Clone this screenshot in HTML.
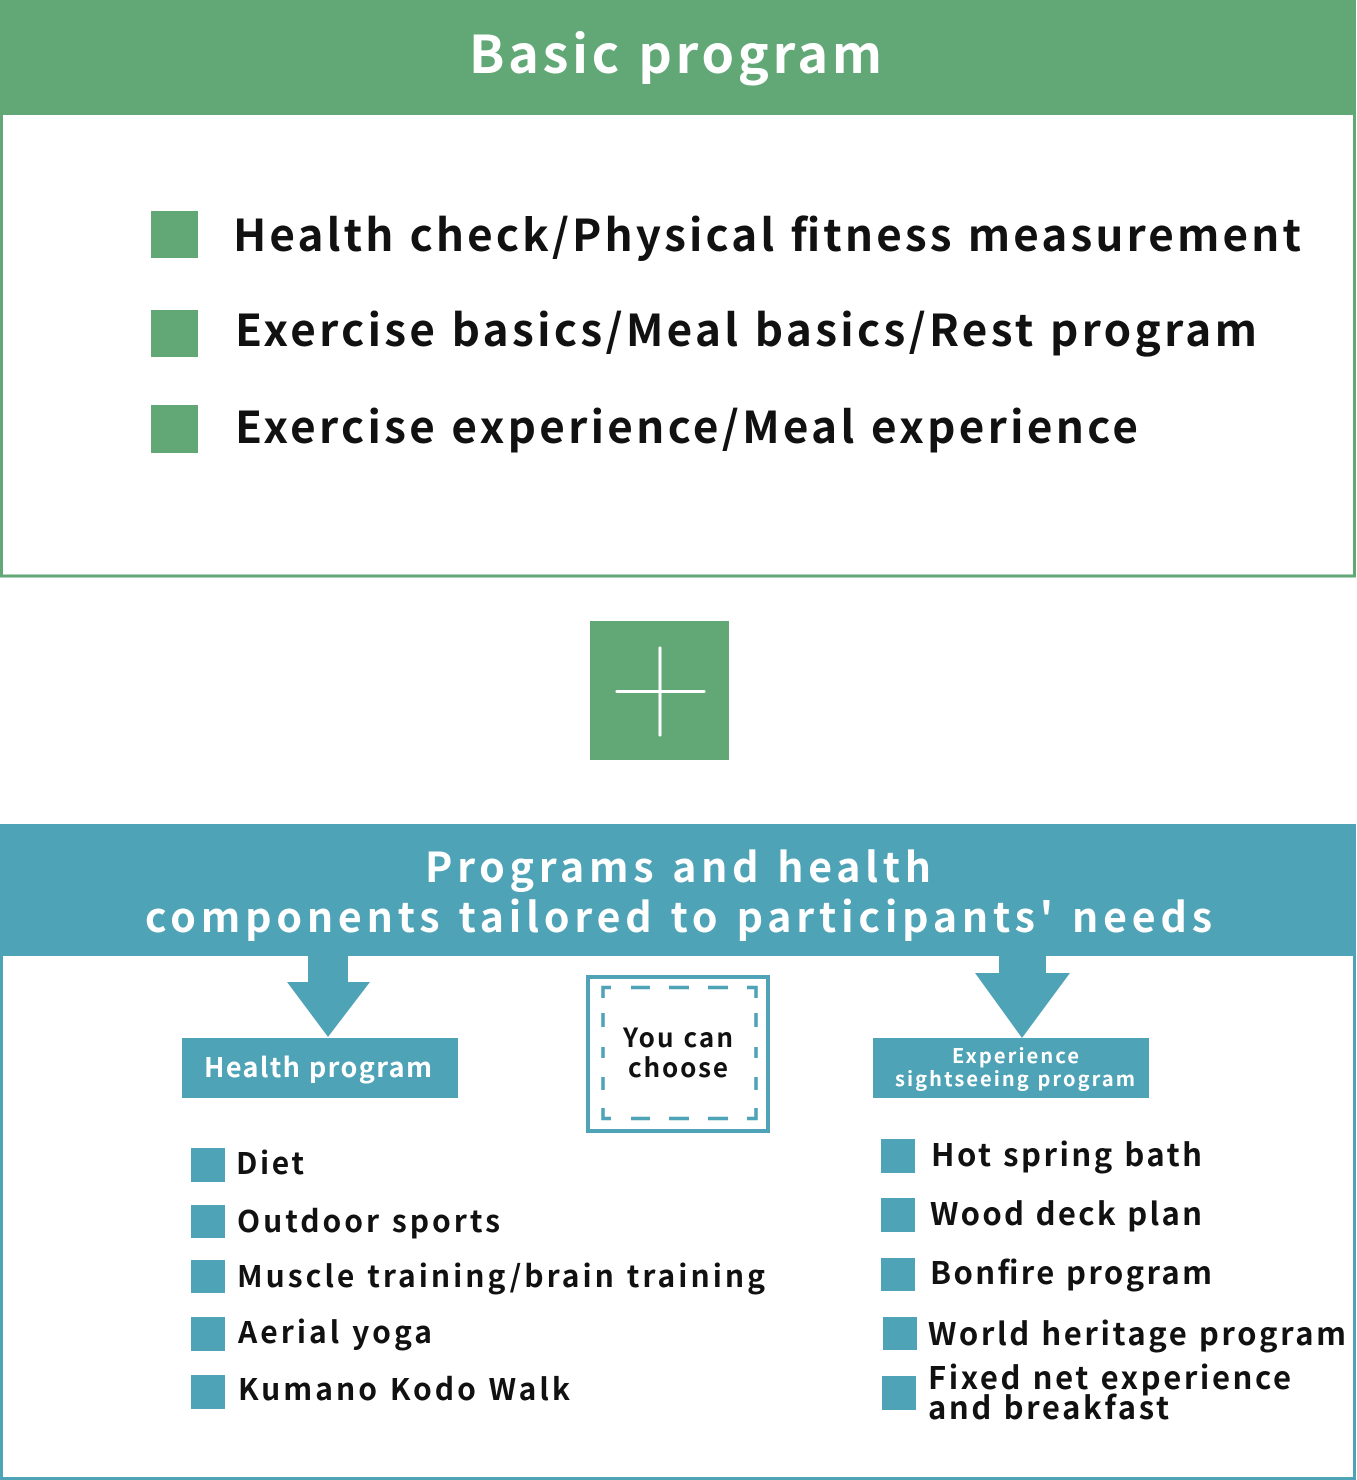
<!DOCTYPE html>
<html>
<head>
<meta charset="utf-8">
<style>
  html, body { margin:0; padding:0; background:#ffffff; overflow:hidden; }
  body { width:1357px; height:1480px; overflow:hidden; }
  svg { display:block; }
  text { font-family: "Noto Sans CJK JP", "Liberation Sans", sans-serif; font-weight:700; }
</style>
</head>
<body>
<svg width="1357" height="1480" viewBox="0 0 1357 1480" xmlns="http://www.w3.org/2000/svg">
  <!-- ===== Top: Basic program ===== -->
  <rect x="1.5" y="1.5" width="1353" height="574.5" fill="#ffffff" stroke="#62a876" stroke-width="3"/>
  <rect x="0" y="0" width="1356" height="115" fill="#62a876"/>
  <text x="469" y="73" font-size="52" fill="#ffffff" textLength="413" lengthAdjust="spacing">Basic program</text>

  <rect x="151" y="211" width="47" height="47" fill="#62a876"/>
  <rect x="151" y="310" width="47" height="47" fill="#62a876"/>
  <rect x="151" y="405" width="47" height="48" fill="#62a876"/>

  <text x="233" y="251" font-size="44" fill="#111111" textLength="1068" lengthAdjust="spacing">Health check/Physical fitness measurement</text>
  <text x="235" y="346" font-size="44" fill="#111111" textLength="1022" lengthAdjust="spacing">Exercise basics/Meal basics/Rest program</text>
  <text x="235" y="443" font-size="44" fill="#111111" textLength="903" lengthAdjust="spacing">Exercise experience/Meal experience</text>

  <!-- ===== Plus ===== -->
  <rect x="590" y="621" width="139" height="139" fill="#62a876"/>
  <line x1="617" y1="691.5" x2="704" y2="691.5" stroke="#ffffff" stroke-width="3" stroke-linecap="round"/>
  <line x1="660" y1="648" x2="660" y2="735" stroke="#ffffff" stroke-width="3" stroke-linecap="round"/>

  <!-- ===== Bottom frame ===== -->
  <rect x="0" y="824" width="3" height="656" fill="#4ea3b6"/>
  <rect x="1353" y="824" width="3" height="656" fill="#4ea3b6"/>
  <rect x="0" y="1477" width="1356" height="3" fill="#4ea3b6"/>
  <rect x="0" y="824" width="1356" height="132" fill="#4ea3b6"/>
  <text x="425" y="882" font-size="41" fill="#ffffff" textLength="506" lengthAdjust="spacing">Programs and health</text>
  <text x="145" y="932" font-size="41" fill="#ffffff" textLength="1067" lengthAdjust="spacing">components tailored to participants' needs</text>

  <!-- Left arrow -->
  <polygon points="308,955 348,955 348,982 370,982 328,1037 287,982 308,982" fill="#4ea3b6"/>
  <!-- Right arrow -->
  <polygon points="999,955 1046,955 1046,973 1070,973 1022,1038 975,973 999,973" fill="#4ea3b6"/>

  <!-- Health program box -->
  <rect x="182" y="1038" width="276" height="60" fill="#4ea3b6"/>
  <text x="204" y="1077" font-size="27" fill="#ffffff" textLength="228" lengthAdjust="spacing">Health program</text>

  <!-- Experience box -->
  <rect x="873" y="1038" width="276" height="60" fill="#4ea3b6"/>
  <text x="952" y="1063" font-size="20" fill="#ffffff" textLength="127" lengthAdjust="spacing">Experience</text>
  <text x="895" y="1086" font-size="20" fill="#ffffff" textLength="240" lengthAdjust="spacing">sightseeing program</text>

  <!-- You can choose box -->
  <rect x="588" y="977" width="180" height="154" fill="#ffffff" stroke="#4ea3b6" stroke-width="4"/>
  <g stroke="#4ea3b6" stroke-width="3.5" fill="none" stroke-linecap="butt">
    <polyline points="603,998 603,987.5 611,987.5"/>
    <polyline points="747,987.5 756,987.5 756,998"/>
    <polyline points="603,1108 603,1118.5 611,1118.5"/>
    <polyline points="747,1118.5 756,1118.5 756,1108"/>
    <line x1="631" y1="987.5" x2="650" y2="987.5"/>
    <line x1="669" y1="987.5" x2="689" y2="987.5"/>
    <line x1="708" y1="987.5" x2="728" y2="987.5"/>
    <line x1="631" y1="1118.5" x2="650" y2="1118.5"/>
    <line x1="669" y1="1118.5" x2="689" y2="1118.5"/>
    <line x1="708" y1="1118.5" x2="728" y2="1118.5"/>
    <line x1="603" y1="1013" x2="603" y2="1027"/>
    <line x1="603" y1="1047" x2="603" y2="1058"/>
    <line x1="603" y1="1077" x2="603" y2="1090"/>
    <line x1="756" y1="1013" x2="756" y2="1027"/>
    <line x1="756" y1="1047" x2="756" y2="1058"/>
    <line x1="756" y1="1077" x2="756" y2="1090"/>
  </g>
  <text x="623" y="1047" font-size="26" fill="#111111" textLength="110" lengthAdjust="spacing">You can</text>
  <text x="628" y="1077" font-size="26" fill="#111111" textLength="100" lengthAdjust="spacing">choose</text>

  <!-- Left list -->
  <g fill="#4ea3b6">
    <rect x="191" y="1148" width="34" height="34"/>
    <rect x="191" y="1205" width="34" height="33"/>
    <rect x="191" y="1260" width="34" height="33"/>
    <rect x="191" y="1317" width="34" height="34"/>
    <rect x="191" y="1375" width="34" height="34"/>
  </g>
  <g fill="#111111" font-size="30">
    <text x="236" y="1174" textLength="68" lengthAdjust="spacing">Diet</text>
    <text x="237" y="1232" textLength="263" lengthAdjust="spacing">Outdoor sports</text>
    <text x="237" y="1287" textLength="528" lengthAdjust="spacing">Muscle training/brain training</text>
    <text x="238" y="1343" textLength="194" lengthAdjust="spacing">Aerial yoga</text>
    <text x="238" y="1400" textLength="332" lengthAdjust="spacing">Kumano Kodo Walk</text>
  </g>

  <!-- Right list -->
  <g fill="#4ea3b6">
    <rect x="881" y="1139" width="34" height="34"/>
    <rect x="881" y="1198" width="34" height="34"/>
    <rect x="881" y="1258" width="34" height="33"/>
    <rect x="883" y="1317" width="34" height="33"/>
    <rect x="882" y="1376" width="34" height="34"/>
  </g>
  <g fill="#111111" font-size="31">
    <text x="931" y="1166" textLength="271" lengthAdjust="spacing">Hot spring bath</text>
    <text x="930" y="1225" textLength="272" lengthAdjust="spacing">Wood deck plan</text>
    <text x="930" y="1284" textLength="282" lengthAdjust="spacing">Bonfire program</text>
    <text x="928" y="1345" textLength="418" lengthAdjust="spacing">World heritage program</text>
    <text x="928" y="1389" textLength="363" lengthAdjust="spacing">Fixed net experience</text>
    <text x="928" y="1419" textLength="241" lengthAdjust="spacing">and breakfast</text>
  </g>
</svg>
</body>
</html>
